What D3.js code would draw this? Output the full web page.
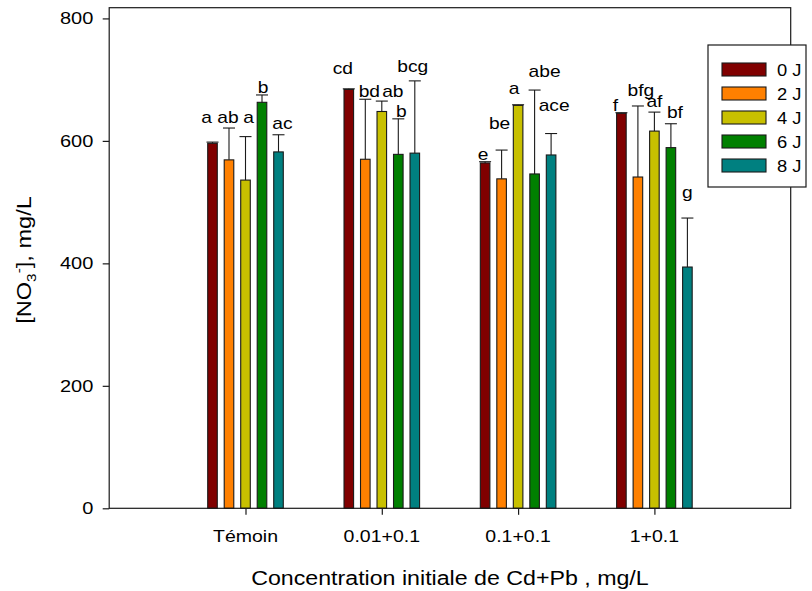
<!DOCTYPE html>
<html>
<head>
<meta charset="utf-8">
<script src="https://cdn.jsdelivr.net/npm/d3@7"></script>
<style>
  html, body { margin: 0; padding: 0; background: #fff; }
  svg { display: block; font-family: "Liberation Sans", Arial, sans-serif; }
</style>
</head>
<body>
<svg id="chart" width="812" height="591"></svg>
<script>
// Treatment groups (initial Cd+Pb concentration) and sampling days
const groups = ["Témoin", "0.01+0.1", "0.1+0.1", "1+0.1"];
const days = ["0 J", "2 J", "4 J", "6 J", "8 J"];
const dayColors = ["#800000", "#ff8000", "#c8c000", "#008000", "#008080"];

// Mean nitrate concentration (mg/L), one row per group, one column per day
const nitrate = [
  [596, 569, 536, 663, 582],
  [684, 570, 648, 578, 580],
  [564, 538, 658, 546, 577],
  [645, 541, 616, 589, 394]
];
// Standard deviation (drawn upward only)
const nitrateSd = [
  [2, 52, 71, 12, 28],
  [1, 98, 17, 58, 118],
  [2, 47, 1, 137, 35],
  [1, 116, 31, 39, 80]
];
// Significance letters
const letters = [
  ["a", "ab", "a", "b", "ac"],
  ["cd", "bd", "ab", "b", "bcg"],
  ["e", "be", "a", "abe", "ace"],
  ["f", "bfg", "af", "bf", "g"]
];
// Height (mg/L) at which each letter sits
const letterAt = [
  [629, 629, 629, 678, 620],
  [710, 672, 672, 639, 712],
  [568, 619, 676, 704, 649],
  [649, 673, 655, 637, 506]
];
// Horizontal nudge of each letter relative to its bar (px)
const letterNudge = [
  [-6, -1, 3, 1, 4],
  [-6, 4, 11, 3, -2],
  [-2, -2, -4, 10, 3],
  [-6, 3, 0, 4, 0]
];
const yTicks = [0, 200, 400, 600, 800];

const svg = d3.select("#chart");
const plot = { left: 109.2, right: 790.7, top: 7.7, bottom: 508.3 };
const STRETCH = 1.22;
const ink = "#1a1a1a";

// x: groups sit at 1..4 on a 0..5 linear axis
const x = d3.scaleLinear().domain([0, groups.length + 1]).range([plot.left, plot.right]);
const y = d3.scaleLinear().domain([0, 817.5]).range([plot.bottom, plot.top]);
const inner = d3.scaleBand().domain(days).range([-41.25, 41.25])
  .paddingInner(0.42).paddingOuter(0.21);

// Text helper: horizontally widened glyphs around an anchor point
function label(parent, px, py, str, size, anchor, sx) {
  const g = parent.append("g")
    .attr("transform", `translate(${px},${py}) scale(${sx || STRETCH},1)`);
  return g.append("text")
    .attr("text-anchor", anchor || "middle")
    .style("font-size", size + "px")
    .attr("fill", "#000")
    .text(str);
}

// Bars
const gBars = svg.append("g");
groups.forEach((grp, gi) => {
  days.forEach((day, di) => {
    const cx0 = x(gi + 1) + inner(day);
    const v = nitrate[gi][di];
    gBars.append("rect")
      .attr("x", cx0)
      .attr("y", y(v))
      .attr("width", inner.bandwidth())
      .attr("height", y(0) - y(v))
      .attr("fill", dayColors[di])
      .attr("stroke", ink)
      .attr("stroke-width", 1.1);
  });
});

// Error bars (upper half)
const gErr = svg.append("g").attr("stroke", ink).attr("stroke-width", 1.1);
groups.forEach((grp, gi) => {
  days.forEach((day, di) => {
    const cx = x(gi + 1) + inner(day) + inner.bandwidth() / 2;
    const v = nitrate[gi][di], e = nitrateSd[gi][di];
    gErr.append("line").attr("x1", cx).attr("x2", cx).attr("y1", y(v)).attr("y2", y(v + e));
    gErr.append("line").attr("x1", cx - 6).attr("x2", cx + 6).attr("y1", y(v + e)).attr("y2", y(v + e));
  });
});

// Letters
const gLet = svg.append("g");
groups.forEach((grp, gi) => {
  days.forEach((day, di) => {
    const cx = x(gi + 1) + inner(day) + inner.bandwidth() / 2 + letterNudge[gi][di];
    label(gLet, cx, y(letterAt[gi][di]), letters[gi][di], 16, "middle", 1.2);
  });
});

// Frame
svg.append("rect")
  .attr("x", plot.left).attr("y", plot.top)
  .attr("width", plot.right - plot.left).attr("height", plot.bottom - plot.top)
  .attr("fill", "none").attr("stroke", ink).attr("stroke-width", 1.2);

// Y axis
const yAxis = svg.append("g")
  .attr("transform", `translate(${plot.left},0)`)
  .call(d3.axisLeft(y).tickValues(yTicks).tickSize(6.5).tickFormat(""));
yAxis.select(".domain").remove();
yAxis.selectAll("line").attr("stroke", ink).attr("stroke-width", 1.2);
yTicks.forEach(t => label(svg, 93.3, y(t) + 5.8, String(t), 16, "end", 1.25));

// X axis
const xAxis = svg.append("g")
  .attr("transform", `translate(0,${plot.bottom})`)
  .call(d3.axisBottom(x).tickValues(d3.range(1, groups.length + 1)).tickSize(6.5).tickFormat(""));
xAxis.select(".domain").remove();
xAxis.selectAll("line").attr("stroke", ink).attr("stroke-width", 1.2);
groups.forEach((grp, gi) => label(svg, x(gi + 1), 542, grp, 16, "middle", 1.22));

// Axis titles
label(svg, (plot.left + plot.right) / 2, 585, "Concentration initiale de Cd+Pb , mg/L", 20, "middle", 1.16);

const yt = svg.append("g")
  .attr("transform", `translate(31,260) rotate(-90) scale(1.18,1)`)
  .append("text").attr("text-anchor", "middle").style("font-size", "20px");
yt.append("tspan").text("[NO");
yt.append("tspan").attr("dy", 5).style("font-size", "13px").text("3");
yt.append("tspan").attr("dy", -13).style("font-size", "13px").text("-");
yt.append("tspan").attr("dy", 8).text("], mg/L");

// Legend
const lg = svg.append("g");
lg.append("rect")
  .attr("x", 708).attr("y", 45).attr("width", 98).attr("height", 142)
  .attr("fill", "#fff").attr("stroke", ink).attr("stroke-width", 1.2);
days.forEach((day, di) => {
  const sy = 63 + di * 24;
  lg.append("rect")
    .attr("x", 722).attr("y", sy).attr("width", 44).attr("height", 13)
    .attr("fill", dayColors[di]).attr("stroke", ink).attr("stroke-width", 1.1);
  label(lg, 777, sy + 12.5, day, 17, "start", 1.08);
});
</script>
</body>
</html>
